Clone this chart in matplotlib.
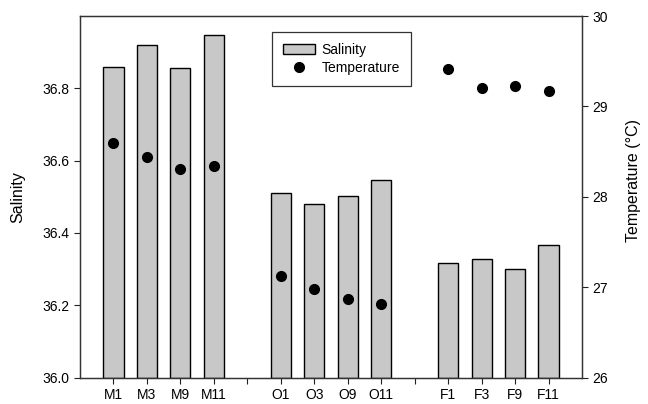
import numpy as np
import matplotlib as mpl
mpl.use('Agg')
import matplotlib.pyplot as plt
from matplotlib.patches import Patch
from matplotlib.lines import Line2D

plt.rcParams['font.family'] = ['Liberation Sans', 'DejaVu Sans']
plt.rcParams['font.size'] = 10

# data
sites = ["M1", "M3", "M9", "M11", "", "O1", "O3", "O9", "O11", "", "F1", "F3", "F9", "F11"]
salinity = [36.860, 36.920, 36.857, 36.947, None,
            36.510, 36.479, 36.503, 36.547, None,
            36.316, 36.328, 36.299, 36.366]
temperature = [28.59, 28.44, 28.31, 28.34, None,
               27.12, 26.98, 26.87, 26.81, None,
               29.41, 29.20, 29.23, 29.17]

x = np.arange(len(sites))
keep = [i for i, s in enumerate(salinity) if s is not None]

fig = plt.figure(figsize=(6.48, 4.04), dpi=100)
ax = fig.add_axes([80/648, 1 - 377.5/404, 502/648, 361.5/404])
ax.bar(x[keep], [salinity[i] - 36.0 for i in keep], bottom=36.0, width=0.6,
       color='#c8c8c8', edgecolor='black', linewidth=1.0)
ax.set_xlim(-1, 14)
ax.set_ylim(36.0, 37.0)
ax.set_yticks([36.0, 36.2, 36.4, 36.6, 36.8])
ax.set_yticklabels(["36.0", "36.2", "36.4", "36.6", "36.8"])
ax.set_xticks(x)
ax.set_xticklabels(sites)
ax.set_ylabel("Salinity", fontsize=11.5)
ax.yaxis.set_label_coords(-0.109, 0.5)
ax.tick_params(direction='out', length=4, width=0.8, colors='#222222', labelcolor='black')
for sp in ax.spines.values():
    sp.set_linewidth(0.9)
    sp.set_color('#333333')

ax2 = ax.twinx()
ax2.plot(x[keep], [temperature[i] for i in keep], 'o', color='black', ms=7)
ax2.set_ylim(26, 30)
ax2.set_yticks([26, 27, 28, 29, 30])
ax2.set_ylabel("Temperature (°C)", fontsize=11.5)
ax2.yaxis.set_label_coords(1.087, 0.544)
ax2.tick_params(direction='out', length=4, width=0.8, colors='#222222', labelcolor='black')
for sp in ax2.spines.values():
    sp.set_linewidth(0.9)
    sp.set_color('#333333')

handles = [Patch(facecolor='#c8c8c8', edgecolor='black', linewidth=1.0),
           Line2D([], [], marker='o', color='black', linestyle='none', ms=7)]
leg = ax.legend(handles, ["Salinity", "Temperature"], loc='upper left',
                bbox_to_anchor=(272/648, 1 - 32/404), bbox_transform=fig.transFigure,
                borderaxespad=0, fancybox=False, framealpha=1, edgecolor='#333333',
                handlelength=2.3, handleheight=0.75, handletextpad=0.45,
                borderpad=0.8, labelspacing=0.25, fontsize=10)
leg.get_frame().set_linewidth(0.9)

fig.savefig("out.png", dpi=100)
